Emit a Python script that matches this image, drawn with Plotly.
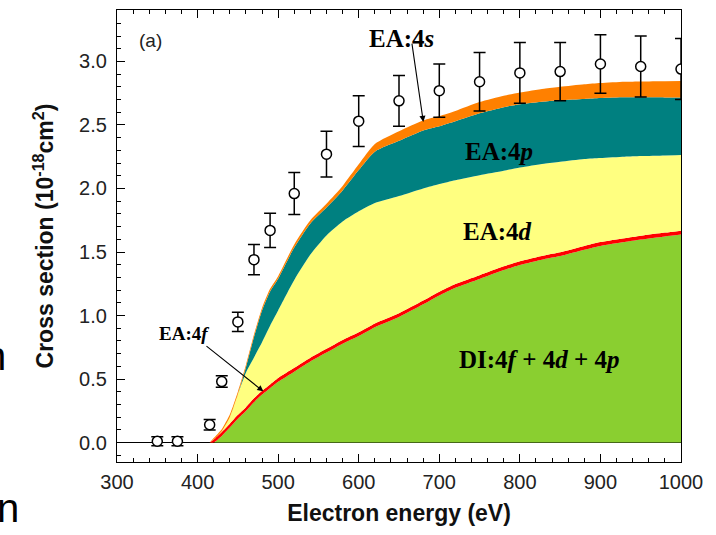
import plotly.graph_objects as go

# Experimental total cross section (10^-18 cm^2) with error bars
exp_energy = [350, 375, 415, 430, 450, 470, 490, 520, 560, 600, 650, 700, 750, 800, 850, 900, 950, 1000]
exp_sigma = [0.01, 0.01, 0.14, 0.48, 0.95, 1.44, 1.67, 1.96, 2.27, 2.53, 2.69, 2.77, 2.84, 2.91, 2.92, 2.98, 2.96, 2.94]
exp_err = [0.035, 0.035, 0.042, 0.045, 0.075, 0.12, 0.135, 0.165, 0.18, 0.2, 0.2, 0.21, 0.23, 0.24, 0.23, 0.23, 0.24, 0.24]

# Theoretical contributions, given as cumulative upper edges of each band
energy = [415, 420, 430, 440, 450, 460, 470, 480, 490, 500, 520, 540, 560, 580, 600, 620, 650,
          680, 700, 720, 750, 780, 800, 830, 850, 880, 900, 930, 950, 980, 1000]
di_top = [0, 0, 0.052, 0.118, 0.188, 0.248, 0.318, 0.378, 0.428, 0.478, 0.558, 0.638, 0.708, 0.778,
          0.838, 0.908, 0.988, 1.088, 1.158, 1.218, 1.288, 1.358, 1.398, 1.443, 1.468, 1.518, 1.548,
          1.578, 1.598, 1.623, 1.638]
ea4f_top = [0, 0.023, 0.083, 0.148, 0.218, 0.278, 0.348, 0.408, 0.458, 0.508, 0.588, 0.668, 0.738,
            0.808, 0.868, 0.938, 1.018, 1.118, 1.188, 1.248, 1.318, 1.388, 1.428, 1.473, 1.498, 1.548,
            1.578, 1.608, 1.628, 1.653, 1.668]
ea4d_top = [0, 0.025, 0.09, 0.20, 0.38, 0.55, 0.67, 0.79, 0.92, 1.04, 1.28, 1.48, 1.63, 1.74, 1.82,
            1.885, 1.94, 2.0, 2.035, 2.065, 2.105, 2.14, 2.165, 2.195, 2.21, 2.232, 2.24, 2.25, 2.255,
            2.26, 2.263]
ea4p_top = [0, 0.025, 0.09, 0.20, 0.38, 0.59, 0.83, 1.04, 1.19, 1.29, 1.535, 1.725, 1.85, 1.985,
            2.145, 2.29, 2.375, 2.457, 2.49, 2.53, 2.592, 2.64, 2.663, 2.685, 2.695, 2.705, 2.712,
            2.718, 2.718, 2.717, 2.716]
ea4s_top = [0, 0.035, 0.105, 0.22, 0.40, 0.61, 0.85, 1.06, 1.21, 1.31, 1.56, 1.75, 1.88, 2.02, 2.19,
            2.35, 2.45, 2.535, 2.57, 2.61, 2.68, 2.73, 2.755, 2.785, 2.80, 2.82, 2.83, 2.84, 2.843,
            2.845, 2.846]

bands = [
    ("DI:4f+4d+4p", di_top, "#8ACF30", "tozeroy"),
    ("EA:4f", ea4f_top, "#FF0000", "tonexty"),
    ("EA:4d", ea4d_top, "#FFFF80", "tonexty"),
    ("EA:4p", ea4p_top, "#008080", "tonexty"),
    ("EA:4s", ea4s_top, "#FF8000", "tonexty"),
]

fig = go.Figure()
for name, top, color, fill in bands:
    fig.add_trace(go.Scatter(
        x=energy, y=top, name=name, mode="lines", fill=fill, fillcolor=color,
        line=dict(width=0, color=color, shape="spline", smoothing=0.6), hoverinfo="skip",
    ))

fig.add_trace(go.Scatter(
    x=exp_energy, y=exp_sigma, mode="markers", name="Experiment",
    marker=dict(symbol="circle", size=10, color="white", line=dict(color="black", width=1.5)),
    error_y=dict(type="data", array=exp_err, color="black", thickness=1.5, width=6),
))

serif = dict(family="Liberation Serif", color="black", weight="bold")

labels = [
    ("EA:4<i>s</i>", 653, 3.18, 25),
    ("EA:4<i>p</i>", 774, 2.29, 25),
    ("EA:4<i>d</i>", 772, 1.66, 25),
    ("DI:4<i>f</i> + 4<i>d</i> + 4<i>p</i>", 824, 0.65, 25),
    ("EA:4<i>f</i>", 383, 0.86, 19),
]
for text, x, y, size in labels:
    fig.add_annotation(x=x, y=y, text=text, showarrow=False, font=dict(size=size, **serif))

# Pointers to the two thin bands
for tip, tail in [((680.2, 2.524), (665.8, 3.152)), ((481.6, 0.403), (409.2, 0.768))]:
    fig.add_annotation(x=tip[0], y=tip[1], ax=tail[0], ay=tail[1], axref="x", ayref="y",
                       text="", showarrow=True, arrowhead=2, arrowsize=1.1, arrowwidth=1.1,
                       arrowcolor="black")

fig.add_annotation(x=341.6, y=3.166, text="(a)", showarrow=False,
                   font=dict(family="Liberation Sans", size=19, color="#222"))

# Letters from the neighbouring column, cut by the left edge
for px, py in [(8, 356), (21, 509)]:
    fig.add_annotation(xref="paper", yref="paper", x=(px - 117) / 564, y=(462.5 - py) / 453,
                       xanchor="right", yanchor="middle", text="n", showarrow=False,
                       font=dict(family="Liberation Sans", size=40, color="black"))

tickfont = dict(family="Liberation Sans", size=20, color="#222")
titlefont = dict(family="Liberation Sans", size=23, color="#111", weight="bold")

fig.update_layout(
    width=716, height=535,
    margin=dict(l=117, r=35, t=9.5, b=72.5),
    paper_bgcolor="white", plot_bgcolor="white",
    showlegend=False,
    xaxis=dict(
        range=[300, 1000], dtick=100, tick0=300, showgrid=False, zeroline=False,
        showline=True, linecolor="black", linewidth=1.3, mirror="ticks",
        ticks="inside", ticklen=8, tickwidth=1.2, tickcolor="black",
        minor=dict(dtick=20, ticks="inside", ticklen=4, tickwidth=1, tickcolor="black"),
        tickfont=tickfont, ticklabelstandoff=2,
        title=dict(text="Electron energy (eV)", font=titlefont, standoff=12),
    ),
    yaxis=dict(
        range=[-0.153, 3.405], dtick=0.5, tick0=0, tickformat=".1f", showgrid=False,
        zeroline=True, zerolinecolor="black", zerolinewidth=1,
        showline=True, linecolor="black", linewidth=1.3, mirror=True,
        ticks="inside", ticklen=8, tickwidth=1.2, tickcolor="black",
        minor=dict(dtick=0.1, ticks="inside", ticklen=4, tickwidth=1, tickcolor="black"),
        tickfont=tickfont, ticklabelstandoff=5,
        title=dict(text="Cross section (10<sup>-18</sup>cm<sup>2</sup>)", font=titlefont, standoff=18),
    ),
)

fig.write_html("out.html")
